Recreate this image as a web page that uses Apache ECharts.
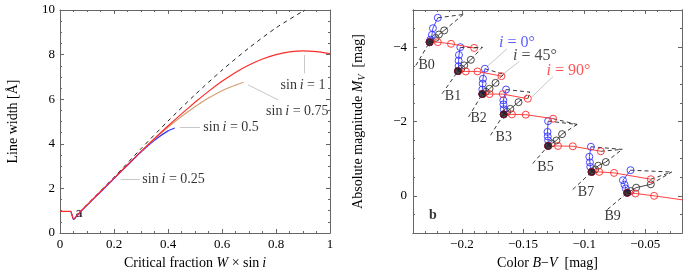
<!DOCTYPE html>
<html><head><meta charset="utf-8">
<script src="https://cdn.jsdelivr.net/npm/echarts@6/dist/echarts.min.js"></script>
<style>html,body{margin:0;padding:0;background:#fff}#c{width:683px;height:276px}</style>
</head><body><div id="c"></div>
<script>
// ---------- panel a ----------
const redX = [0,0.04,0.045,0.05,0.065,0.08,0.1,0.15,0.2,0.25,0.3,0.35,0.4,0.45,0.5,0.55,0.6,0.65,0.7,0.75,0.8,0.85,0.9,0.95,1.0];
const redY = [0.97,0.97,0.8,0.62,0.82,1.02,1.26,1.86,2.46,3.06,3.66,4.24,4.8,5.34,5.86,6.35,6.8,7.2,7.53,7.8,8.0,8.12,8.17,8.13,8.04];
const tanX = [0.3,0.35,0.4,0.45,0.5,0.55,0.6,0.65,0.68];
const tanY = [3.66,4.22,4.74,5.22,5.66,6.05,6.38,6.63,6.76];
const blueX = [0.04,0.045,0.05,0.065,0.08,0.1,0.15,0.2,0.25,0.3,0.35,0.4,0.425];
const blueY = [0.97,0.78,0.6,0.8,1.0,1.24,1.84,2.44,3.04,3.63,4.16,4.58,4.71];
const dashX = [0.09,0.2,0.3,0.4,0.5,0.6,0.7,0.8,0.907];
const dashY = [1.15,2.5,3.78,5.02,6.2,7.3,8.3,9.2,10.0];
const sinLabels = ['0.25','0.5','0.75','1'];
const sinLabelPos = [[0.305,2.39],[0.531,4.73],[0.879,5.45],[0.9,6.64]];
const sinLabelAlign = ['left','left','center','center'];
const sinLeaders = [[[0.225,2.39],[0.295,2.39]],[[0.444,4.73],[0.519,4.73]],[[0.697,6.64],[0.808,5.97]],[[0.904,7.98],[0.904,7.16]]];

// ---------- panel b ----------
const spType = ['B0','B1','B2','B3','B5','B7','B9'];
const baseBV = [-0.2264,-0.2032,-0.1833,-0.1658,-0.1295,-0.0939,-0.0648];
const baseMV = [-4.134,-3.356,-2.738,-2.192,-1.342,-0.644,-0.081];
const blueTracks = [
 [[-0.2258,-4.20],[-0.2245,-4.33],[-0.2237,-4.51],[-0.2197,-4.79]],
 [[-0.2027,-3.49],[-0.2027,-3.64],[-0.2024,-3.79],[-0.2013,-4.00]],
 [[-0.1833,-2.86],[-0.1830,-3.02],[-0.1828,-3.15],[-0.1812,-3.42]],
 [[-0.1658,-2.33],[-0.1660,-2.46],[-0.1661,-2.57],[-0.1639,-2.86]],
 [[-0.1295,-1.49],[-0.1298,-1.60],[-0.1300,-1.72],[-0.1295,-2.01]],
 [[-0.0950,-0.78],[-0.0953,-0.90],[-0.0958,-1.05],[-0.0945,-1.32]],
 [[-0.0660,-0.20],[-0.0670,-0.30],[-0.0683,-0.42],[-0.0621,-0.69]]
];
const blackTracks = [
 [[-0.2215,-4.25],[-0.2188,-4.34],[-0.2145,-4.45]],
 [[-0.2005,-3.42],[-0.1981,-3.51],[-0.1927,-3.66]],
 [[-0.1805,-2.80],[-0.1774,-2.88],[-0.1725,-3.04]],
 [[-0.1630,-2.26],[-0.1604,-2.34],[-0.1537,-2.52]],
 [[-0.1265,-1.41],[-0.1227,-1.49],[-0.1181,-1.66]],
 [[-0.0910,-0.71],[-0.0885,-0.81],[-0.0823,-0.91]],
 [[-0.0620,-0.13],[-0.0575,-0.22],[-0.0455,-0.31]]
];
const redTracks = [
 [[-0.2197,-4.134],[-0.2089,-4.09],[-0.1900,-3.98]],
 [[-0.1968,-3.347],[-0.1873,-3.347],[-0.1677,-3.221]],
 [[-0.1774,-2.738],[-0.1666,-2.738],[-0.1461,-2.613]],
 [[-0.1591,-2.192],[-0.1478,-2.183],[-0.1254,-2.076]],
 [[-0.1214,-1.342],[-0.1093,-1.333],[-0.0864,-1.199]],
 [[-0.0877,-0.644],[-0.0756,-0.617],[-0.0455,-0.447]],
 [[-0.0581,-0.063],[-0.0428,0.0]]
];
const redTail = [[-0.0428,0.0],[-0.0150,0.13]];
const convPts = [[-0.1989,-4.88],[-0.1833,-4.0],[-0.1658,-3.27],[-0.1443,-2.79],[-0.1058,-1.92],[-0.0689,-1.25],[-0.0285,-0.64]];
const leaderStart = [[-0.2377,-3.508],[-0.2162,-2.747],[-0.1946,-2.121],[-0.1766,-1.629],[-0.1421,-0.868],[-0.1093,-0.170],[-0.0810,0.367]];
const typeLabelPos = [[-0.2288,-3.508],[-0.2073,-2.676],[-0.1863,-2.076],[-0.1658,-1.584],[-0.1316,-0.779],[-0.0985,-0.081],[-0.0767,0.546]];
const incLabels = ['0','45','90'];
const incLabelPos = [[-0.155,-4.116],[-0.1402,-3.776],[-0.1128,-3.374]];
const incLeaders = [[[-0.1631,-3.955],[-0.1793,-3.481]],[[-0.1531,-3.615],[-0.1712,-3.15]],[[-0.1254,-3.212],[-0.1429,-2.658]]];
const xTicksB = [-0.2,-0.15,-0.1,-0.05];
const yTicksB = [-4,-2,0];

// ---------- styles ----------
const FONT = 'Liberation Serif';
const RED = '#ff2b2b', BLUE = '#3535ff', TAN = '#d3a273', INC = ['#3535ff','#222','#ff2b2b'];
const AX = '#666';
const minus = v => String(v).replace('-', '\u2212');
const rich = { it: { fontStyle: 'italic', fontFamily: FONT, fontSize: 14, color: '#000' },
               sub: { fontStyle: 'italic', fontFamily: FONT, fontSize: 10, color: '#000', padding: [8,0,0,0] } };

function axisBase(extra) {
  return Object.assign({
    type: 'value', splitLine: { show: false },
    axisLine: { show: true, onZero: false, lineStyle: { color: AX, width: 1 } },
    axisTick: { show: true, inside: true, length: 4, lineStyle: { color: AX } },
    axisLabel: { show: false, color: '#000', fontFamily: FONT, fontSize: 13 },
  }, extra);
}

const xAxis = [
  axisBase({ gridIndex: 0, position: 'bottom', min: 0, max: 1, interval: 0.2,
    minorTick: { show: true, splitNumber: 4, length: 2, lineStyle: { color: AX } },
    axisLabel: { show: true, color: '#000', fontFamily: FONT, fontSize: 13, margin: 5, formatter: v => String(+v.toFixed(2)) },
    name: 'Critical fraction {it|W} \u00d7 sin\u2009{it|i}', nameLocation: 'middle', nameGap: 22,
    nameTextStyle: { fontFamily: FONT, fontSize: 14, color: '#000', rich } }),
  axisBase({ gridIndex: 0, position: 'top', min: 0, max: 1, interval: 0.2,
    minorTick: { show: true, splitNumber: 4, length: 2, lineStyle: { color: AX } } }),
  axisBase({ gridIndex: 1, position: 'bottom', min: -0.24, max: -0.02, interval: 0.01, axisTick: { show: true, inside: true, length: 2, lineStyle: { color: AX } } }),
  axisBase({ gridIndex: 1, position: 'bottom', min: -0.24, max: -0.02,
    axisTick: { show: true, inside: true, length: 4, customValues: xTicksB, lineStyle: { color: AX } },
    axisLabel: { show: true, customValues: xTicksB, color: '#000', fontFamily: FONT, fontSize: 13, margin: 5, formatter: minus },
    name: 'Color {it|B}\u2212{it|V}  [mag]', nameLocation: 'middle', nameGap: 22,
    nameTextStyle: { fontFamily: FONT, fontSize: 14, color: '#000', rich } }),
  axisBase({ gridIndex: 1, position: 'top', min: -0.24, max: -0.02, interval: 0.01, axisTick: { show: true, inside: true, length: 2, lineStyle: { color: AX } } }),
  axisBase({ gridIndex: 1, position: 'top', min: -0.24, max: -0.02,
    axisTick: { show: true, inside: true, length: 4, customValues: xTicksB, lineStyle: { color: AX } } })
];
const yAxis = [
  axisBase({ gridIndex: 0, position: 'left', min: 0, max: 10, interval: 2,
    minorTick: { show: true, splitNumber: 4, length: 2, lineStyle: { color: AX } },
    axisLabel: { show: true, color: '#000', fontFamily: FONT, fontSize: 13, margin: 5 },
    name: 'Line width [\u00c5]', nameLocation: 'middle', nameGap: 40,
    nameTextStyle: { fontFamily: FONT, fontSize: 14, color: '#000' } }),
  axisBase({ gridIndex: 0, position: 'right', min: 0, max: 10, interval: 2,
    minorTick: { show: true, splitNumber: 4, length: 2, lineStyle: { color: AX } } }),
  axisBase({ gridIndex: 1, position: 'left', min: -5, max: 1, interval: 0.5, inverse: true, axisTick: { show: true, inside: true, length: 2, lineStyle: { color: AX } } }),
  axisBase({ gridIndex: 1, position: 'left', min: -5, max: 1, inverse: true,
    axisTick: { show: true, inside: true, length: 4, customValues: yTicksB, lineStyle: { color: AX } },
    axisLabel: { show: true, customValues: yTicksB, color: '#000', fontFamily: FONT, fontSize: 13, margin: 6, formatter: minus },
    name: 'Absolute magnitude {it|M}{sub|V}  [mag]', nameLocation: 'middle', nameGap: 46,
    nameTextStyle: { fontFamily: FONT, fontSize: 14, color: '#000', rich } }),
  axisBase({ gridIndex: 1, position: 'right', min: -5, max: 1, interval: 0.5, inverse: true, axisTick: { show: true, inside: true, length: 2, lineStyle: { color: AX } } }),
  axisBase({ gridIndex: 1, position: 'right', min: -5, max: 1, inverse: true,
    axisTick: { show: true, inside: true, length: 4, customValues: yTicksB, lineStyle: { color: AX } } })
];

const zip = (xs, ys) => xs.map((x, i) => [x, ys[i]]);
const series = [];
const curveA = (xs, ys, color, extra) => Object.assign({ type: 'line', xAxisIndex: 0, yAxisIndex: 0, data: zip(xs, ys), showSymbol: false, symbol: 'none', smooth: 0.25, lineStyle: { color, width: 1.2 }, silent: true, z: 3 }, extra || {});
series.push(curveA(dashX, dashY, '#222', { lineStyle: { color: '#222', width: 1, type: [4, 4] } }));
series.push(curveA(blueX, blueY, BLUE));
series.push(curveA(tanX, tanY, TAN));
series.push(curveA(redX, redY, RED, { z: 4, smooth: 0.15 }));
series.push({ type: 'lines', coordinateSystem: 'cartesian2d', xAxisIndex: 0, yAxisIndex: 0, silent: true,
  lineStyle: { color: '#c8c8c8', width: 1, opacity: 1 }, data: sinLeaders.map(c => ({ coords: c })) });
series.push({ type: 'scatter', xAxisIndex: 0, yAxisIndex: 0, symbolSize: 0, silent: true,
  data: sinLabelPos.map((p, i) => ({ value: p, label: { show: true, position: 'inside', align: sinLabelAlign[i], verticalAlign: 'middle',
    formatter: 'sin\u2009{it|i} = ' + sinLabels[i], fontFamily: FONT, fontSize: 14, color: '#000', rich: { it: { fontStyle: 'italic', fontFamily: FONT, fontSize: 14 } } } })) });
series.push({ type: 'scatter', xAxisIndex: 0, yAxisIndex: 0, symbolSize: 0, silent: true,
  data: [{ value: [0.07, 0.86], label: { show: true, position: 'inside', formatter: 'a', fontFamily: FONT, fontSize: 14, fontWeight: 'bold', color: '#000' } }] });

// panel b
const dashSegs = [];
spType.forEach((t, g) => {
  const bt = blueTracks[g], kt = blackTracks[g];
  dashSegs.push({ coords: [bt[bt.length - 1], convPts[g]] });
  dashSegs.push({ coords: [kt[kt.length - 1], convPts[g]] });
  if (g > 0) { const rt = redTracks[g - 1]; dashSegs.push({ coords: [rt[rt.length - 1], convPts[g]] }); }
  dashSegs.push({ coords: [leaderStart[g], [baseBV[g], baseMV[g]]] });
});
series.push({ type: 'lines', coordinateSystem: 'cartesian2d', xAxisIndex: 2, yAxisIndex: 2, silent: true, z: 2,
  lineStyle: { color: '#222', width: 0.9, type: [4, 3], opacity: 1 }, data: dashSegs });
series.push({ type: 'lines', coordinateSystem: 'cartesian2d', xAxisIndex: 2, yAxisIndex: 2, silent: true,
  lineStyle: { color: '#c8c8c8', width: 1, opacity: 1 }, data: incLeaders.map(c => ({ coords: c })) });

const trackSeries = (tracks, color, z) => tracks.forEach((tr, g) => {
  series.push({ type: 'line', xAxisIndex: 2, yAxisIndex: 2, silent: true, z,
    data: [[baseBV[g], baseMV[g]]].concat(tr), symbol: 'circle', symbolSize: 7, showSymbol: true,
    itemStyle: { color: 'rgba(255,255,255,0)', borderColor: color, borderWidth: 0.9 }, lineStyle: { color, width: 0.9 } });
});
trackSeries(blackTracks, '#333', 3);
trackSeries(blueTracks, BLUE, 4);
trackSeries(redTracks, RED, 5);
series.push({ type: 'line', xAxisIndex: 2, yAxisIndex: 2, silent: true, z: 5, data: redTail, showSymbol: false, symbol: 'none', lineStyle: { color: RED, width: 0.9 } });
series.push({ type: 'scatter', xAxisIndex: 2, yAxisIndex: 2, silent: true, z: 6, symbolSize: 7,
  itemStyle: { color: '#151515', borderColor: '#5a1020', borderWidth: 0.8 }, data: zip(baseBV, baseMV) });
series.push({ type: 'scatter', xAxisIndex: 2, yAxisIndex: 2, symbolSize: 0, silent: true, z: 7,
  data: typeLabelPos.map((p, i) => ({ value: p, label: { show: true, position: 'inside', formatter: spType[i], fontFamily: FONT, fontSize: 14, color: '#000' } })) });
series.push({ type: 'scatter', xAxisIndex: 2, yAxisIndex: 2, symbolSize: 0, silent: true, z: 7,
  data: incLabelPos.map((p, i) => ({ value: p, label: { show: true, position: 'inside', formatter: '{it|i} = ' + incLabels[i] + '\u00b0',
    fontFamily: FONT, fontSize: 16, color: INC[i], rich: { it: { fontStyle: 'italic', fontFamily: FONT, fontSize: 16, color: INC[i] } } } })) });
series.push({ type: 'scatter', xAxisIndex: 2, yAxisIndex: 2, symbolSize: 0, silent: true,
  data: [{ value: [-0.2237, 0.519], label: { show: true, position: 'inside', formatter: 'b', fontFamily: FONT, fontSize: 14, fontWeight: 'bold', color: '#000' } }] });

const chart = echarts.init(document.getElementById('c'), null, { renderer: 'canvas' });
chart.setOption({
  animation: false, backgroundColor: '#fff',
  grid: [{ left: 60, top: 10, width: 270, height: 223 }, { left: 413, top: 10, width: 269, height: 223 }],
  xAxis, yAxis, series
});
</script></body></html>
